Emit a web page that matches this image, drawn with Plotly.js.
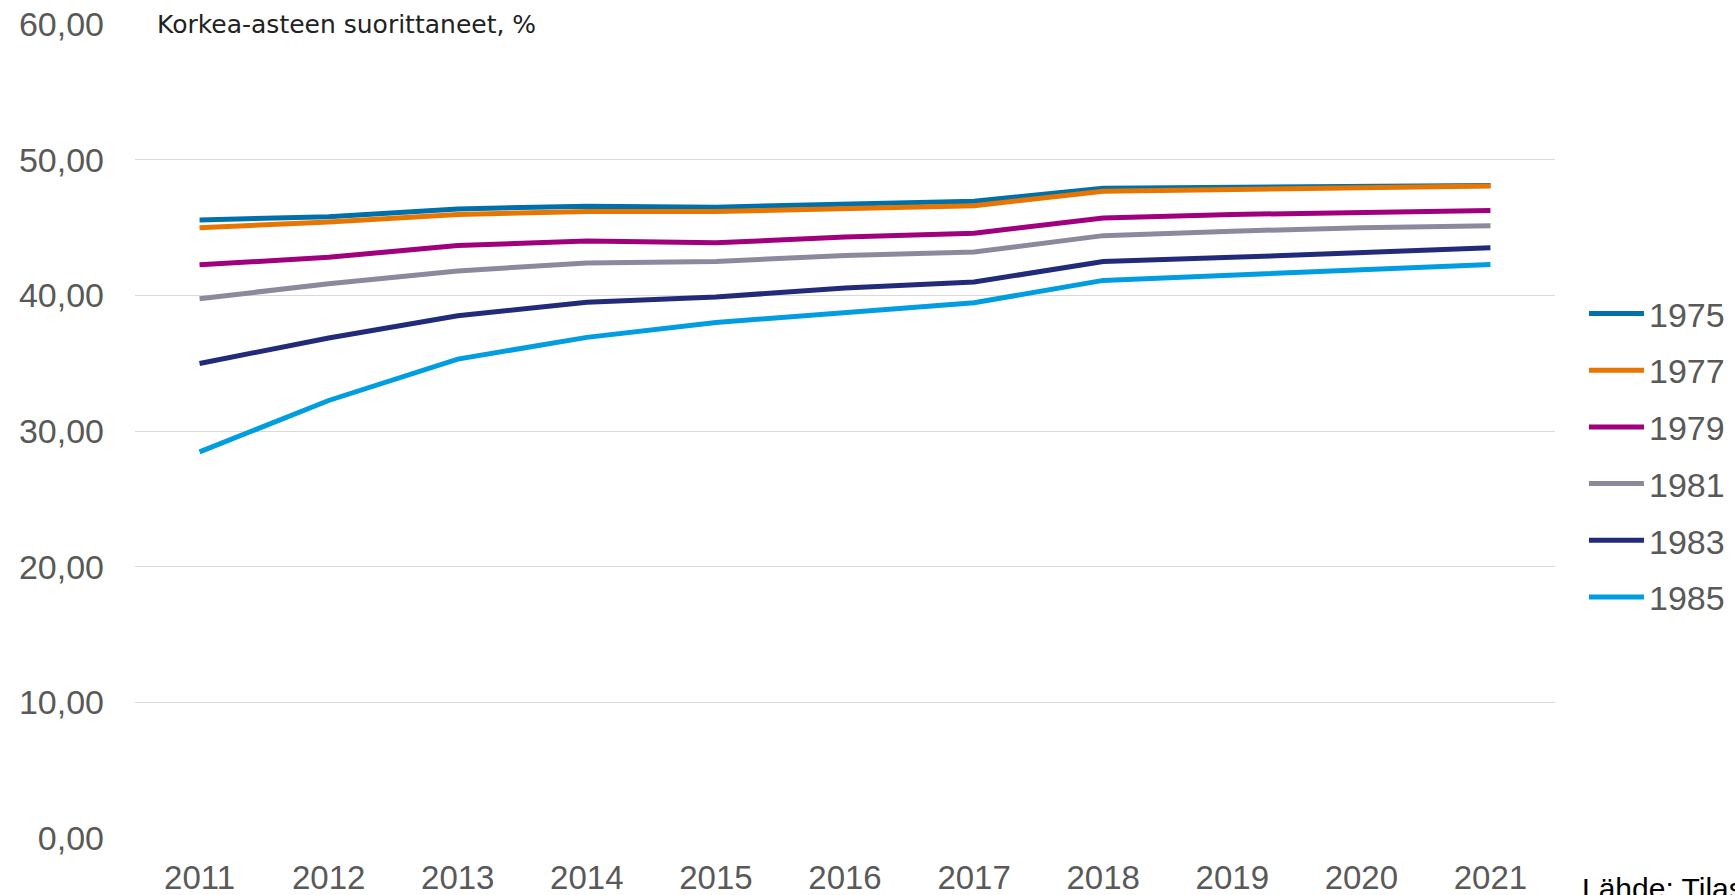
<!DOCTYPE html>
<html>
<head>
<meta charset="utf-8">
<script src="https://cdn.plot.ly/plotly-3.0.1.min.js"></script>
<style>html,body{margin:0;padding:0;background:#fff;}#chart{width:1735px;height:895px;}</style>
</head>
<body>
<div id="chart"></div>
<script>
const years = ['2011','2012','2013','2014','2015','2016','2017','2018','2019','2020','2021'];
const seriesNames = ['1975','1977','1979','1981','1983','1985'];
const v1975 = [45.56, 45.80, 46.37, 46.57, 46.50, 46.70, 46.94, 47.90, 47.97, 48.10, 48.10];
const v1977 = [44.98, 45.40, 45.96, 46.18, 46.18, 46.37, 46.60, 47.67, 47.80, 47.97, 48.06];
const v1979 = [42.25, 42.80, 43.68, 44.00, 43.87, 44.30, 44.58, 45.70, 45.96, 46.13, 46.25];
const v1981 = [39.75, 40.86, 41.80, 42.38, 42.50, 42.94, 43.19, 44.40, 44.73, 44.98, 45.13];
const v1983 = [34.98, 36.86, 38.50, 39.49, 39.88, 40.54, 40.98, 42.50, 42.80, 43.14, 43.50];
const v1985 = [28.46, 32.25, 35.30, 36.90, 38.00, 38.75, 39.46, 41.10, 41.50, 41.90, 42.28];
const colors = ['#0070ab', '#e87500', '#a0007e', '#8a8a9c', '#222a7a', '#009ee0'];
const titleText = 'Korkea-asteen suorittaneet, %';
const sourceText = 'Lähde: Tilastokeskus';

const allValues = [v1975, v1977, v1979, v1981, v1983, v1985];
const FONT = 'Liberation Sans, Arial, sans-serif';

const traces = allValues.map((vals, i) => ({
  type: 'scatter',
  mode: 'lines',
  x: years,
  y: vals,
  name: seriesNames[i],
  legendgroup: 'g' + i,
  line: {color: colors[i], width: 5},
  hoverinfo: 'x+y+name'
}));

const layout = {
  width: 1735,
  height: 895,
  margin: {l: 135, r: 180, t: 24, b: 57, autoexpand: false},
  paper_bgcolor: '#ffffff',
  plot_bgcolor: '#ffffff',
  separators: ', ',
  showlegend: true,
  legend: {
    x: 1.0204,
    xanchor: 'left',
    y: 0.47,
    yanchor: 'middle',
    font: {family: FONT, size: 34, color: '#595959'},
    tracegroupgap: 9.5,
    itemwidth: 55,
    bgcolor: 'rgba(0,0,0,0)'
  },
  xaxis: {
    type: 'category',
    range: [-0.5, 10.5],
    showgrid: false,
    zeroline: false,
    showline: false,
    ticks: '',
    tickfont: {family: FONT, size: 33, color: '#595959'},
    ticklabelstandoff: 17
  },
  yaxis: {
    range: [0, 60],
    dtick: 10,
    tickformat: '.2f',
    showgrid: true,
    gridcolor: '#d9d9d9',
    gridwidth: 1,
    zeroline: false,
    showline: false,
    ticks: '',
    tickfont: {family: FONT, size: 34, color: '#595959'},
    ticklabelstandoff: 30
  },
  annotations: [
    {
      text: titleText,
      xref: 'paper', yref: 'y',
      x: 0.0056, y: 60,
      xanchor: 'left', yanchor: 'middle',
      showarrow: false,
      bgcolor: '#ffffff',
      borderpad: 13,
      font: {family: 'DejaVu Sans, sans-serif', size: 25, color: '#222222'}
    },
    {
      text: sourceText,
      xref: 'paper', yref: 'paper',
      x: (1580 - 135) / 1420, y: (838 - 870) / 814,
      xanchor: 'left', yanchor: 'top',
      showarrow: false,
      font: {family: FONT, size: 30, color: '#000000'}
    }
  ]
};

Plotly.newPlot('chart', traces, layout, {displayModeBar: false, responsive: false});
</script>
</body>
</html>
